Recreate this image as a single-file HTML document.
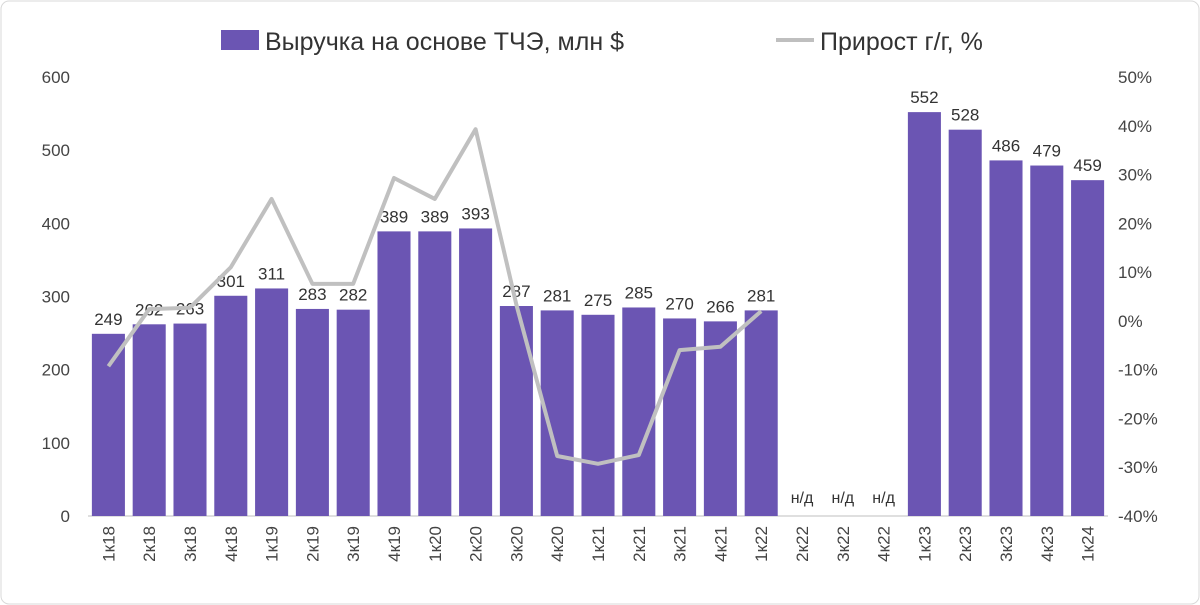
<!DOCTYPE html>
<html><head><meta charset="utf-8"><style>
body{margin:0;background:#fff;}
svg{display:block;font-family:"Liberation Sans","DejaVu Sans",sans-serif;}
</style></head><body>
<svg id="chart" width="1200" height="605">
<rect x="1" y="1" width="1198" height="603" rx="8" fill="#fff" stroke="#d9d9d9"/>
<g>
<rect x="221" y="30" width="38" height="20" fill="#6b55b3"/>
<text x="265" y="50" font-size="25" fill="#333">Выручка на основе ТЧЭ, млн $</text>
<line x1="776" y1="40" x2="814" y2="40" stroke="#bfbfbf" stroke-width="4"/>
<text x="820" y="50" font-size="25" fill="#333">Прирост г/г, %</text>
</g>
<g id="plot"></g>
</svg>
<script>
const categories=["1к18","2к18","3к18","4к18","1к19","2к19","3к19","4к19","1к20","2к20","3к20","4к20","1к21","2к21","3к21","4к21","1к22","2к22","3к22","4к22","1к23","2к23","3к23","4к23","1к24"];
const revenue=[249,262,263,301,311,283,282,389,389,393,287,281,275,285,270,266,281,null,null,null,552,528,486,479,459];
const growth=[-9.3,2.4,2.7,11,25,7.6,7.6,29.3,25,39.3,3.3,-27.7,-29.3,-27.5,-6,-5.3,2,null,null,null,null,null,null,null,null];
const leftTicks=[0,100,200,300,400,500,600];
const rightTicks=[-40,-30,-20,-10,0,10,20,30,40,50];
const NS="http://www.w3.org/2000/svg";
const g=document.getElementById("plot");
const x0=88,x1=1108,yB=516,yT=77;
const step=(x1-x0)/categories.length;
const xC=i=>x0+step*(i+0.5);
const yL=v=>yB-(v/600)*(yB-yT);
const yR=v=>yB-((v+40)/90)*(yB-yT);
function mk(tag,attrs,txt){const e=document.createElementNS(NS,tag);for(const k in attrs)e.setAttribute(k,attrs[k]);if(txt!==undefined)e.textContent=txt;g.appendChild(e);return e;}
leftTicks.forEach(v=>{const t=mk("text",{x:70,y:yL(v)+6,"text-anchor":"end","font-size":"17",fill:"#444"},v);

});
rightTicks.forEach(v=>{const t=mk("text",{x:1118,y:yR(v)+6,"font-size":"17",fill:"#444"},v+"%");

});
const ax=mk("line",{x1:x0,y1:yB,x2:x1,y2:yB,stroke:"#bfbfbf","stroke-width":1});


const bw=step*0.81;
categories.forEach((c,i)=>{
 const v=revenue[i];
 if(v!==null){
  const r=mk("rect",{x:xC(i)-bw/2,y:yL(v),width:bw,height:yB-yL(v),fill:"#6b55b3"});
  
  
 }
 const lb=mk("text",{x:xC(i),y:v!==null?yL(v)-9:yB-13,"text-anchor":"middle","font-size":v!==null?"17":"16",fill:"#333"},v!==null?v:"н/д");
 
 
 const xl=mk("text",{x:0,y:0,"text-anchor":"end","font-size":"17",fill:"#444",transform:`translate(${xC(i)+6},${yB+10}) rotate(-90)`},c);
 
 
});
const pts=[];growth.forEach((v,i)=>{if(v!==null)pts.push(xC(i)+","+yR(v));});
const pl=mk("polyline",{points:pts.join(" "),fill:"none",stroke:"#c0c0c0","stroke-width":4,"stroke-linejoin":"round"});


</script>
</body></html>
